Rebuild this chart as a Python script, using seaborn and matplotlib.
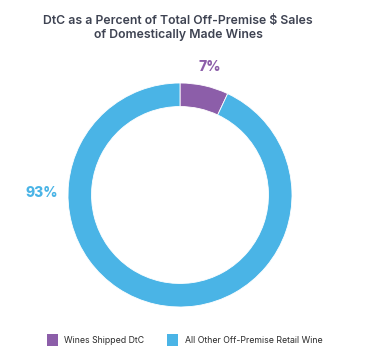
import matplotlib
matplotlib.use("Agg")
import matplotlib.pyplot as plt
from matplotlib.patches import Patch
import seaborn as sns

# data
labels = ["Wines Shipped DtC", "All Other Off-Premise Retail Wine"]
shares = [7, 93]
pct_text = ["7%", "93%"]
colors = ["#8c5ea9", "#4ab4e6"]

sns.set_theme(style="white")
plt.rcParams["font.family"] = ["Inter", "DejaVu Sans"]

fig = plt.figure(figsize=(3.68, 3.56), dpi=100)
# donut centre ~ (180, 195) px, outer radius ~112 px
ax = fig.add_axes([(180 - 112) / 368, (356 - 195 - 112) / 356, 224 / 368, 224 / 356])

wedges, _ = ax.pie(shares, colors=colors, startangle=90, counterclock=False,
                   radius=1.0, wedgeprops=dict(width=0.21, linewidth=0.6, edgecolor="white"))
ax.set_xlim(-1, 1)
ax.set_ylim(-1, 1)
ax.set_aspect("equal")
ax.axis("off")

# percentage labels
ax.text(0.27, 1.14, pct_text[0], color=colors[0], fontsize=10, fontweight="heavy",
        ha="center", va="center", clip_on=False)
ax.text(-1.23, 0.02, pct_text[1], color=colors[1], fontsize=10, fontweight="heavy",
        ha="center", va="center", clip_on=False)

fig.text(0.484, 0.922, "DtC as a Percent of Total Off-Premise $ Sales\nof Domestically Made Wines",
         ha="center", va="center", fontsize=8.8, fontweight="semibold", color="#3e4352",
         linespacing=1.2)

handles = [Patch(facecolor=c, edgecolor="none") for c in colors]
fig.legend(handles, labels, loc="center", bbox_to_anchor=(0.502, 16 / 356), ncol=2,
           frameon=False, fontsize=6.3, handlelength=1.25, handleheight=1.9,
           handletextpad=0.75, columnspacing=2.6, labelcolor="#2b2b2b")

fig.savefig("out.png", dpi=100, facecolor="white")
